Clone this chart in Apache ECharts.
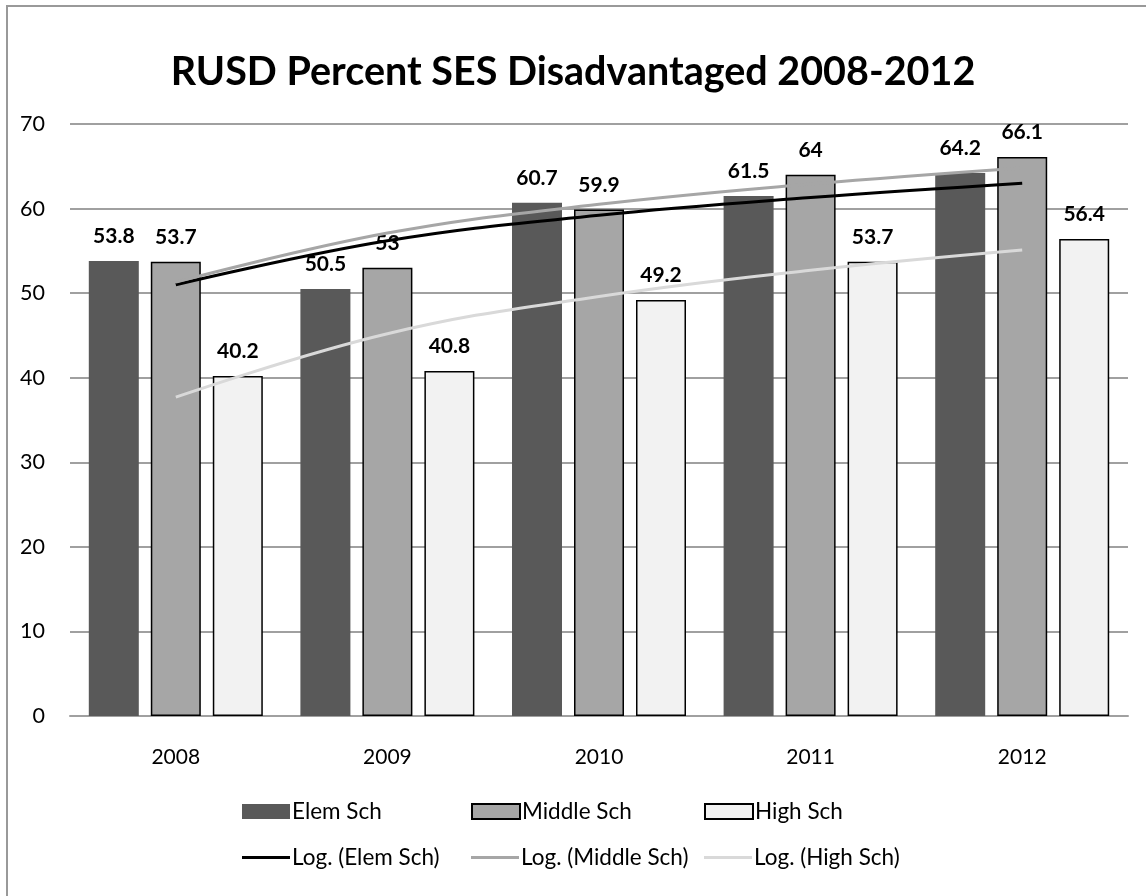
<!DOCTYPE html>
<html>
<head>
<meta charset="utf-8">
<title>RUSD Percent SES Disadvantaged</title>
<script src="https://cdn.jsdelivr.net/npm/echarts@6/dist/echarts.min.js"></script>
<style>
    body{
        margin: 0;
        background: #fff;
    }
    #frame{
        position: absolute;
        left: 6px;
        top: 5px;
        width: 1200px;
        height: 950px;
        border-top: 2px solid #999;
        border-left: 2px solid #999;
    }
    #chart{
        position: absolute;
        left: 0;
        top: 0;
        width: 1146px;
        height: 896px;
    }
</style>
</head>
<body>
<div id="frame"></div>
<div id="chart"></div>
<script>
// 数据
var years = ['2008', '2009', '2010', '2011', '2012'];
var elemSch = [53.8, 50.5, 60.7, 61.5, 64.2];
var middleSch = [53.7, 53, 59.9, 64, 66.1];
var highSch = [40.2, 40.8, 49.2, 53.7, 56.4];
// trendlines
var logElem = [51.0, 56.2, 59.2, 61.3, 63.0];
var logMiddle = [51.3, 57.1, 60.5, 62.9, 64.8];
var logHigh = [37.7, 45.2, 49.6, 52.7, 55.1];
var yTicks = [0, 10, 20, 30, 40, 50, 60, 70];

var font = 'Lato';
var chart = echarts.init(document.getElementById('chart'));

function barLabel(){
    return {
        show: true,
        position: 'top',
        distance: 14,
        fontFamily: font,
        fontSize: 21,
        fontWeight: 'bold',
        color: '#000'
    };
}

// 每个图例单独放，模仿 Excel 的固定列宽
var cols = [242, 471, 704];
function legendItem(name, col, row, icon, h){
    return {
        left: cols[col],
        top: row == 0 ? 800 : 846,
        itemWidth: 48,
        itemHeight: h,
        itemGap: 0,
        padding: 0,
        textStyle: {fontFamily: font, fontSize: 22.5, color: '#000', padding: [0, 0, 0, -3]},
        data: [{name: name, icon: icon}]
    };
}

chart.setOption({
    animation: false,
    title: {
        text: 'RUSD Percent SES Disadvantaged 2008-2012',
        left: 'center',
        top: 47,
        textStyle: {
            fontFamily: font,
            fontSize: 39.5,
            fontWeight: 'bold',
            color: '#000'
        }
    },
    legend: [
        legendItem('Elem Sch', 0, 0, 'rect', 15),
        legendItem('Middle Sch', 1, 0, 'rect', 15),
        legendItem('High Sch', 2, 0, 'rect', 15),
        legendItem('Log. (Elem Sch)', 0, 1, 'rect', 3),
        legendItem('Log. (Middle Sch)', 1, 1, 'rect', 3),
        legendItem('Log. (High Sch)', 2, 1, 'rect', 3)
    ],
    grid: {
        left: 70,
        right: 18,
        top: 124,
        bottom: 180,
        containLabel: false
    },
    xAxis: {
        type: 'category',
        data: years,
        axisTick: {show: false},
        axisLine: {lineStyle: {color: '#a0a0a0', width: 2}},
        axisLabel: {fontFamily: font, fontSize: 21, color: '#000', margin: 31}
    },
    yAxis: {
        type: 'value',
        min: yTicks[0],
        max: yTicks[yTicks.length - 1],
        interval: 10,
        axisLine: {show: false},
        axisTick: {show: false},
        axisLabel: {fontFamily: font, fontSize: 21.5, color: '#000', margin: 25},
        splitLine: {lineStyle: {color: '#a0a0a0', width: 2}}
    },
    series: [
        {
            name: 'Elem Sch',
            type: 'bar',
            data: elemSch,
            barWidth: 50,
            barGap: '24%',
            itemStyle: {color: '#595959'},
            label: barLabel()
        },
        {
            name: 'Middle Sch',
            type: 'bar',
            data: middleSch,
            barWidth: 50,
            barGap: '24%',
            itemStyle: {color: '#a6a6a6', borderColor: '#000', borderWidth: 1.5},
            label: barLabel()
        },
        {
            name: 'High Sch',
            type: 'bar',
            data: highSch,
            barWidth: 50,
            barGap: '24%',
            itemStyle: {color: '#f2f2f2', borderColor: '#000', borderWidth: 1.5},
            label: barLabel()
        },
        {
            name: 'Log. (Elem Sch)',
            type: 'line',
            data: logElem,
            smooth: 0.4,
            symbol: 'none',
            z: 5,
            lineStyle: {color: '#000', width: 3},
            itemStyle: {color: '#000'}
        },
        {
            name: 'Log. (Middle Sch)',
            type: 'line',
            data: logMiddle,
            smooth: 0.4,
            symbol: 'none',
            z: 5,
            lineStyle: {color: '#a6a6a6', width: 3},
            itemStyle: {color: '#a6a6a6'}
        },
        {
            name: 'Log. (High Sch)',
            type: 'line',
            data: logHigh,
            smooth: 0.4,
            symbol: 'none',
            z: 5,
            lineStyle: {color: '#d9d9d9', width: 3},
            itemStyle: {color: '#d9d9d9'}
        }
    ]
});
</script>
</body>
</html>
